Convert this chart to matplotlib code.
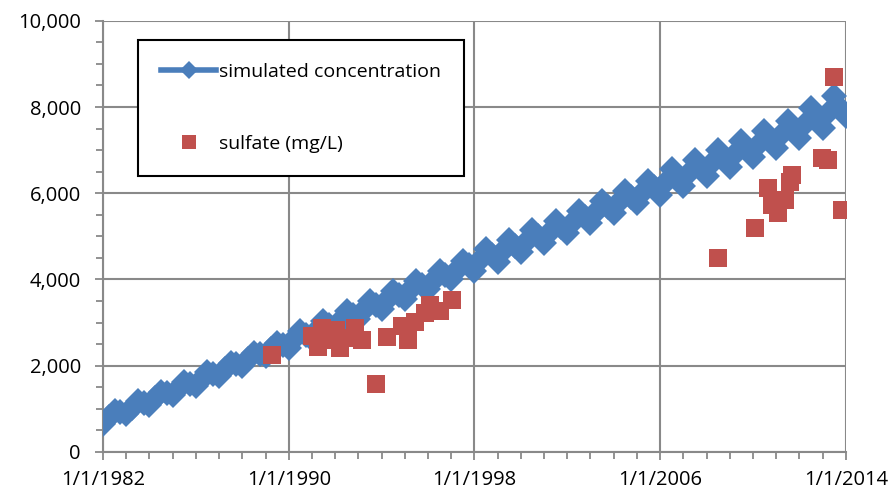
import pandas as pd
import matplotlib.pyplot as plt
import matplotlib.dates as mdates
from matplotlib.lines import Line2D
from matplotlib.ticker import FixedLocator, FuncFormatter, MultipleLocator

plt.rcParams['font.family'] = ['Open Sans', 'DejaVu Sans']

# === Simulated concentration (Jan / Apr / Jul / Oct of each year) ===
sim_years = list(range(1982, 2014))
jan_values = [650, 870, 1090, 1310, 1540, 1760, 1990, 2220,
              2400, 2630, 2860, 3090, 3320, 3550, 3780, 4010,
              4190, 4410, 4630, 4850, 5080, 5310, 5540, 5770,
              5950, 6170, 6390, 6610, 6830, 7060, 7290, 7520]
apr_values = [810, 1030, 1250, 1470, 1700, 1920, 2150, 2380,
              2610, 2840, 3070, 3300, 3530, 3760, 3990, 4220,
              4450, 4670, 4890, 5110, 5340, 5570, 5800, 6030,
              6260, 6480, 6700, 6920, 7140, 7370, 7600, 7850]
jul_values = [960, 1180, 1400, 1620, 1850, 2070, 2300, 2530,
              2810, 3040, 3270, 3500, 3730, 3960, 4190, 4420,
              4700, 4920, 5140, 5360, 5590, 5820, 6050, 6280,
              6560, 6780, 7000, 7220, 7440, 7670, 7980, 8250]
oct_values = [920, 1140, 1360, 1580, 1810, 2030, 2260, 2490,
              2720, 2950, 3180, 3410, 3640, 3870, 4100, 4330,
              4560, 4780, 5000, 5220, 5450, 5680, 5910, 6140,
              6370, 6590, 6810, 7030, 7250, 7480, 7730, 7980]
final_date = '2014-01-01'
final_value = 7800

# === Measured sulfate (mg/L) ===
sulfate_dates = ['1989-04-10', '1991-01-01', '1991-04-05', '1991-06-05',
                 '1991-10-10', '1992-01-10', '1992-03-15', '1992-08-20',
                 '1992-11-05', '1993-02-25', '1993-10-05', '1994-03-25',
                 '1994-11-15', '1995-02-15', '1995-06-10', '1995-11-15',
                 '1996-02-01', '1996-07-05', '1997-01-15', '2008-06-25',
                 '2010-01-30', '2010-08-20', '2010-10-20', '2011-01-25',
                 '2011-05-15', '2011-08-01', '2011-09-01', '2012-12-20',
                 '2013-03-20', '2013-07-05', '2013-10-30']
sulfate_values = [2250, 2690, 2440, 2880, 2600, 2830, 2410, 2650,
                  2880, 2600, 1580, 2670, 2920, 2600, 3020, 3230,
                  3410, 3260, 3530, 4500, 5200, 6125, 5730, 5545,
                  5850, 6265, 6430, 6820, 6775, 8700, 5615]

x_tick_dates = ['1982-01-01', '1990-01-01', '1998-01-01', '2006-01-01', '2014-01-01']

# put the four seasonal lists together in date order
parts = []
for month, vals in [('01', jan_values), ('04', apr_values), ('07', jul_values), ('10', oct_values)]:
    idx = pd.to_datetime([f'{y}-{month}-01' for y in sim_years])
    parts.append(pd.Series(vals, index=idx))
parts.append(pd.Series([final_value], index=pd.to_datetime([final_date])))
sim = pd.concat(parts).sort_index()

blue = '#4A7EBB'
red = '#C0504D'
grey = '#898989'

fig = plt.figure(figsize=(8.96, 4.95), dpi=100)
ax = fig.add_axes([0.115, 0.087, 0.829, 0.871])

ax.plot(sim.index, sim.values, color=blue, lw=4, marker='D', markersize=13.5,
        markeredgewidth=0, zorder=3)
ax.plot(pd.to_datetime(sulfate_dates), sulfate_values, ls='none', marker='s',
        markersize=13.5, color=red, markeredgewidth=0, zorder=4)

# === Axes ===
ax.set_xlim(pd.Timestamp('1982-01-01'), pd.Timestamp('2014-01-01'))
ax.set_ylim(0, 10000)
ax.xaxis.set_major_locator(FixedLocator(mdates.date2num(pd.to_datetime(x_tick_dates))))
ax.xaxis.set_minor_locator(mdates.YearLocator(1))
ax.xaxis.set_major_formatter(FuncFormatter(
    lambda v, p: '1/1/%d' % mdates.num2date(v).year))
ax.yaxis.set_major_locator(MultipleLocator(2000))
ax.yaxis.set_minor_locator(MultipleLocator(500))
ax.yaxis.set_major_formatter(FuncFormatter(lambda v, p: f'{int(v):,}'))

ax.grid(True, which='major', color=grey, lw=1.5, zorder=0)
for side in ['top', 'right']:
    ax.spines[side].set_visible(False)
for side in ['left', 'bottom']:
    ax.spines[side].set_color(grey)
    ax.spines[side].set_linewidth(1.5)
ax.tick_params(which='both', color=grey, width=1.3, labelsize=14.5, labelcolor='black')
ax.tick_params(which='major', length=6)
ax.tick_params(which='minor', length=5)
ax.tick_params(axis='y', pad=10)
ax.tick_params(axis='x', pad=7)

# === Legend ===
handles = [
    Line2D([], [], color=blue, lw=4, marker='D', markersize=9, markeredgewidth=0),
    Line2D([], [], color=red, ls='none', marker='s', markersize=10, markeredgewidth=0),
]
leg = ax.legend(handles, ['simulated concentration', 'sulfate (mg/L)'],
                loc='upper left', bbox_to_anchor=(0.047, 0.956), fontsize=14,
                fancybox=False, framealpha=1, edgecolor='black',
                labelspacing=2.75, borderpad=1.2, handlelength=2.8,
                handletextpad=0.15, borderaxespad=0)
leg.get_frame().set_linewidth(1.5)
leg.set_zorder(5)

plt.savefig('out.png', dpi=100)
